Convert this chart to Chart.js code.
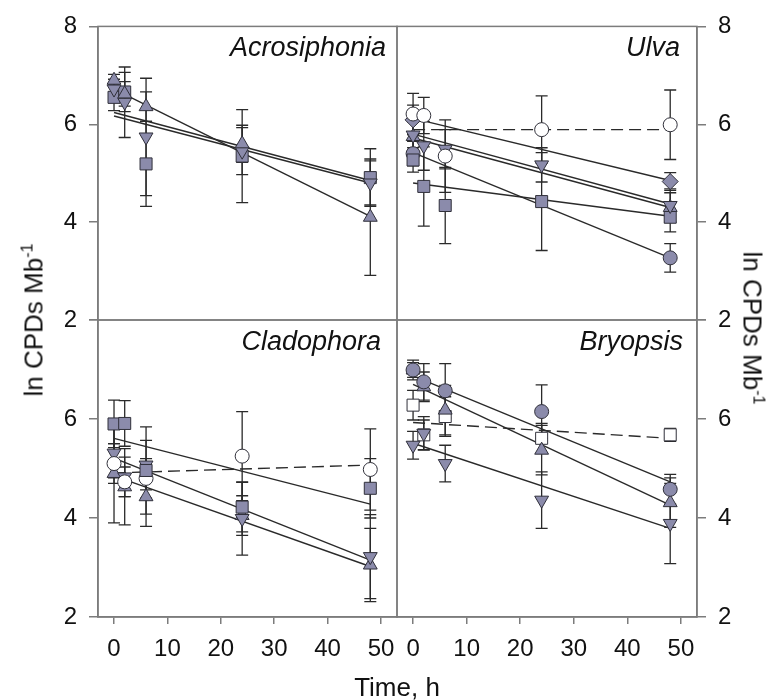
<!DOCTYPE html>
<html lang="en">
<head>
<meta charset="utf-8">
<script src="https://cdn.jsdelivr.net/npm/chart.js@4.4.1/dist/chart.umd.min.js"></script>
<style>
    body { margin: 0; background: #fff; }
    #figura { position: relative; width: 772px; height: 700px; font-family: "Liberation Sans", Arial, sans-serif; color: #111; }
    #figura canvas { position: absolute; left: 0; top: 0; }
    .tituloEixo { position: absolute; font-size: 26px; white-space: nowrap; }
    .tituloEixo sup { font-size: 16px; }
</style>
</head>
<body>
<div id="figura">
    <canvas id="painelAcro" width="772" height="700"></canvas>
    <canvas id="painelUlva" width="772" height="700"></canvas>
    <canvas id="painelClado" width="772" height="700"></canvas>
    <canvas id="painelBryo" width="772" height="700"></canvas>
    <div class="tituloEixo" style="left:34px; top:320px; transform:translate(-50%,-50%) rotate(-90deg);">ln CPDs Mb<sup>-1</sup></div>
    <div class="tituloEixo" style="left:752px; top:328px; transform:translate(-50%,-50%) rotate(90deg);">ln CPDs Mb<sup>-1</sup></div>
    <div class="tituloEixo" style="left:397px; top:687px; transform:translate(-50%,-50%);">Time, h</div>
</div>

<script>
// =============================
// DADOS
// =============================

const tempos = [0, 2, 6, 24, 48];
const tempoAjuste = [0, 48];
const ticksX = [0, 10, 20, 30, 40, 50];
const ticksY = [2, 4, 6, 8];

// Acrosiphonia
const acroTriCima = [6.90, 6.62, 6.36, 5.60, 4.10];
const acroTriCimaErro = [0.12, 0.25, 0.30, 0.38, 1.19];
const acroTriCimaAjuste = [6.72, 4.12];
const acroTriBaixo = [6.72, 6.45, 5.74, 5.45, 4.80];
const acroTriBaixoErro = [0.20, 0.72, 1.20, 0.48, 0.45];
const acroTriBaixoAjuste = [6.17, 4.80];
const acroQuadrado = [6.55, 6.66, 5.19, 5.35, 4.91];
const acroQuadradoErro = [0.27, 0.40, 0.87, 0.95, 0.59];
const acroQuadradoAjuste = [6.24, 4.85];

// Ulva
const ulvaCirculoAberto = [6.21, 6.18, 5.35, 5.89, 5.99];
const ulvaCirculoAbertoErro = [0.42, 0.37, 0.74, 0.69, 0.71];
const ulvaCirculoAbertoAjuste = [5.89, 5.89];
const ulvaLosango = [6.09, null, null, null, 4.83];
const ulvaLosangoErro = [0.30, 0, 0, 0, 0.18];
const ulvaLosangoAjuste = [6.12, 4.85];
const ulvaTriBaixo = [5.78, 5.56, 5.49, 5.17, 4.34];
const ulvaTriBaixoErro = [0.35, 0.50, 0.40, 0.35, 0.34];
const ulvaTriBaixoAjuste = [5.80, 4.37];
const ulvaTriCima = [5.75, null, null, null, 4.30];
const ulvaTriCimaErro = [0.30, 0, 0, 0, 0.30];
const ulvaTriCimaAjuste = [5.72, 4.30];
const ulvaQuadrado = [5.27, 4.73, 4.34, 4.42, 4.10];
const ulvaQuadradoErro = [0.25, 0.81, 0.78, 1.00, 0.30];
const ulvaQuadradoAjuste = [4.80, 4.12];
const ulvaCirculo = [5.40, null, null, null, 3.27];
const ulvaCirculoErro = [0.25, 0, 0, 0, 0.29];
const ulvaCirculoAjuste = [5.42, 3.27];

// Cladophora
const cladoQuadrado = [5.90, 5.91, 4.96, 4.22, 4.60];
const cladoQuadradoErro = [0.48, 0.46, 0.88, 0.50, 0.60];
const cladoQuadradoAjuste = [5.61, 4.28];
const cladoCirculoAberto = [5.10, 4.73, 4.80, 5.25, 4.98];
const cladoCirculoAbertoErro = [0.40, 0.30, 0.40, 0.90, 0.82];
const cladoCirculoAbertoAjuste = [4.91, 5.07];
const cladoTriBaixo = [5.31, 4.83, 5.07, 3.99, 3.22];
const cladoTriBaixoErro = [0.50, 0.40, 0.50, 0.74, 0.85];
const cladoTriBaixoAjuste = [5.21, 3.15];
const cladoTriCima = [4.90, 4.63, 4.43, 4.05, 3.05];
const cladoTriCimaErro = [1.00, 0.77, 0.60, 0.40, 0.74];
const cladoTriCimaAjuste = [4.85, 3.02];

// Bryopsis
const bryoCirculo = [6.99, 6.75, 6.57, 6.15, 4.58];
const bryoCirculoErro = [0.20, 0.37, 0.55, 0.54, 0.30];
const bryoCirculoAjuste = [6.87, 4.73];
const bryoTriCima = [6.99, 6.65, 6.18, 5.37, 4.31];
const bryoTriCimaErro = [0.15, 0.30, 0.50, 0.50, 0.50];
const bryoTriCimaAjuste = [6.70, 4.26];
const bryoTriBaixo = [5.47, 5.71, 5.10, 4.36, 3.89];
const bryoTriBaixoErro = [0.28, 0.34, 0.37, 0.57, 0.81];
const bryoTriBaixoAjuste = [5.51, 3.79];
const bryoQuadradoAberto = [6.28, 5.68, 6.05, 5.61, 5.68];
const bryoQuadradoAbertoErro = [0.30, 0.30, 0.40, 0.30, 0.13];
const bryoQuadradoAbertoAjuste = [5.93, 5.61];


// =============================
// ESTILO
// =============================

const corMarcador = '#8b8bab';
const corContorno = '#30303a';
const corLinha = '#2a2a2a';
const corMoldura = '#7c7c7c';
const fonteTicks = { family: '"Liberation Sans", Arial, sans-serif', size: 24 };

const formas = {
    circulo: { pointStyle: 'circle', rotacao: 0, raio: 7 },
    quadrado: { pointStyle: 'rect', rotacao: 0, raio: 8.5 },
    triCima: { pointStyle: 'triangle', rotacao: 0, raio: 8 },
    triBaixo: { pointStyle: 'triangle', rotacao: 180, raio: 8 },
    losango: { pointStyle: 'rectRot', rotacao: 0, raio: 8 }
};


// =============================
// FUNÇÕES AUXILIARES
// =============================

function serie(valores, erros, forma, aberto) {
    const f = formas[forma];
    return {
        type: 'scatter',
        data: tempos.map((t, i) => ({ x: t, y: valores[i] })),
        erros: erros,
        pointStyle: f.pointStyle,
        pointRotation: f.rotacao,
        pointRadius: f.raio,
        backgroundColor: aberto ? '#ffffff' : corMarcador,
        borderColor: corContorno,
        borderWidth: 1,
        showLine: false,
        clip: false,
        order: 0
    };
}

function ajuste(valores, tracejado) {
    return {
        type: 'line',
        data: tempoAjuste.map((t, i) => ({ x: t, y: valores[i] })),
        borderColor: corLinha,
        borderWidth: 1.4,
        borderDash: tracejado ? [12, 6] : [],
        pointRadius: 0,
        fill: false,
        order: 1
    };
}

const pluginBarrasErro = {
    id: 'barrasErro',
    beforeDatasetsDraw(chart) {
        const ctx = chart.ctx;
        const escalaX = chart.scales.x;
        const escalaY = chart.scales.y;

        ctx.save();
        ctx.strokeStyle = corLinha;
        ctx.lineWidth = 1.3;

        chart.data.datasets.forEach(ds => {
            if (!ds.erros) return;

            ds.data.forEach((p, i) => {
                const e = ds.erros[i];
                if (p.y === null || !e) return;

                const px = escalaX.getPixelForValue(p.x);
                const yCima = escalaY.getPixelForValue(p.y + e);
                const yBaixo = escalaY.getPixelForValue(p.y - e);

                ctx.beginPath();
                ctx.moveTo(px, yCima);
                ctx.lineTo(px, yBaixo);
                ctx.moveTo(px - 6, yCima);
                ctx.lineTo(px + 6, yCima);
                ctx.moveTo(px - 6, yBaixo);
                ctx.lineTo(px + 6, yBaixo);
                ctx.stroke();
            });
        });

        ctx.restore();
    }
};

const pluginMoldura = {
    id: 'moldura',
    afterDraw(chart, args, opcoes) {
        const ctx = chart.ctx;
        const a = chart.chartArea;

        ctx.save();
        ctx.strokeStyle = corMoldura;
        ctx.lineWidth = 1.5;
        ctx.strokeRect(a.left, a.top, a.right - a.left, a.bottom - a.top);

        ctx.fillStyle = '#111';
        ctx.font = 'italic 27px "Liberation Sans", Arial, sans-serif';
        ctx.textAlign = 'right';
        ctx.textBaseline = 'alphabetic';
        ctx.fillText(opcoes.titulo, opcoes.direita, a.top + 30);
        ctx.restore();
    }
};

const LARGURA_EIXO_Y = 50;
const ALTURA_EIXO_X = 50;

function criarPainel(id, area, config, datasets) {
    const direita = config.lado === 'right';

    const padding = {
        left: direita ? area.left : area.left - LARGURA_EIXO_Y,
        right: direita ? 772 - area.right - LARGURA_EIXO_Y : 772 - area.right,
        top: area.top,
        bottom: config.eixoX ? 700 - area.bottom - ALTURA_EIXO_X : 700 - area.bottom
    };

    new Chart(document.getElementById(id), {
        type: 'scatter',
        data: { datasets: datasets },
        options: {
            responsive: false,
            animation: false,
            events: [],
            layout: { padding: padding, autoPadding: false },
            plugins: {
                legend: { display: false },
                tooltip: { enabled: false },
                moldura: { titulo: config.titulo, direita: config.tituloDireita }
            },
            scales: {
                x: {
                    type: 'linear',
                    min: -3,
                    max: 53,
                    display: config.eixoX,
                    afterBuildTicks: s => { s.ticks = ticksX.map(v => ({ value: v })); },
                    afterFit: s => { s.height = config.eixoX ? ALTURA_EIXO_X : 0; },
                    grid: { drawOnChartArea: false, drawTicks: true, tickLength: 7, color: corMoldura, lineWidth: 1.5 },
                    border: { display: true, color: corMoldura, width: 1.5 },
                    ticks: { font: fonteTicks, color: '#111', padding: 11, maxRotation: 0 }
                },
                y: {
                    type: 'linear',
                    position: config.lado,
                    min: 2,
                    max: 8,
                    afterBuildTicks: s => { s.ticks = ticksY.map(v => ({ value: v })); },
                    afterFit: s => { s.width = LARGURA_EIXO_Y; },
                    grid: { drawOnChartArea: false, drawTicks: true, tickLength: 9, color: corMoldura, lineWidth: 1.5 },
                    border: { display: true, color: corMoldura, width: 1.5 },
                    ticks: {
                        font: fonteTicks,
                        color: '#111',
                        padding: 12,
                        callback: v => (config.ocultar8 && v === 8) ? '' : v
                    }
                }
            }
        },
        plugins: [pluginBarrasErro, pluginMoldura]
    });
}


// =============================
// PAINÉIS
// =============================

criarPainel('painelAcro',
    { left: 98, top: 23, right: 397, bottom: 320 },
    { lado: 'left', eixoX: false, titulo: 'Acrosiphonia', tituloDireita: 386, ocultar8: false },
    [
        serie(acroTriCima, acroTriCimaErro, 'triCima', false),
        serie(acroTriBaixo, acroTriBaixoErro, 'triBaixo', false),
        serie(acroQuadrado, acroQuadradoErro, 'quadrado', false),
        ajuste(acroTriCimaAjuste, false),
        ajuste(acroTriBaixoAjuste, false),
        ajuste(acroQuadradoAjuste, false)
    ]);

criarPainel('painelUlva',
    { left: 397, top: 23, right: 697, bottom: 320 },
    { lado: 'right', eixoX: false, titulo: 'Ulva', tituloDireita: 680, ocultar8: false },
    [
        serie(ulvaCirculoAberto, ulvaCirculoAbertoErro, 'circulo', true),
        serie(ulvaLosango, ulvaLosangoErro, 'losango', false),
        serie(ulvaTriBaixo, ulvaTriBaixoErro, 'triBaixo', false),
        serie(ulvaTriCima, ulvaTriCimaErro, 'triCima', false),
        serie(ulvaQuadrado, ulvaQuadradoErro, 'quadrado', false),
        serie(ulvaCirculo, ulvaCirculoErro, 'circulo', false),
        ajuste(ulvaCirculoAbertoAjuste, true),
        ajuste(ulvaLosangoAjuste, false),
        ajuste(ulvaTriBaixoAjuste, false),
        ajuste(ulvaTriCimaAjuste, false),
        ajuste(ulvaQuadradoAjuste, false),
        ajuste(ulvaCirculoAjuste, false)
    ]);

criarPainel('painelClado',
    { left: 98, top: 320, right: 397, bottom: 617 },
    { lado: 'left', eixoX: true, titulo: 'Cladophora', tituloDireita: 381, ocultar8: true },
    [
        serie(cladoQuadrado, cladoQuadradoErro, 'quadrado', false),
        serie(cladoCirculoAberto, cladoCirculoAbertoErro, 'circulo', true),
        serie(cladoTriBaixo, cladoTriBaixoErro, 'triBaixo', false),
        serie(cladoTriCima, cladoTriCimaErro, 'triCima', false),
        ajuste(cladoQuadradoAjuste, false),
        ajuste(cladoCirculoAbertoAjuste, true),
        ajuste(cladoTriBaixoAjuste, false),
        ajuste(cladoTriCimaAjuste, false)
    ]);

criarPainel('painelBryo',
    { left: 397, top: 320, right: 697, bottom: 617 },
    { lado: 'right', eixoX: true, titulo: 'Bryopsis', tituloDireita: 683, ocultar8: true },
    [
        serie(bryoCirculo, bryoCirculoErro, 'circulo', false),
        serie(bryoTriCima, bryoTriCimaErro, 'triCima', false),
        serie(bryoTriBaixo, bryoTriBaixoErro, 'triBaixo', false),
        serie(bryoQuadradoAberto, bryoQuadradoAbertoErro, 'quadrado', true),
        ajuste(bryoCirculoAjuste, false),
        ajuste(bryoTriCimaAjuste, false),
        ajuste(bryoTriBaixoAjuste, false),
        ajuste(bryoQuadradoAbertoAjuste, true)
    ]);
</script>
</body>
</html>
